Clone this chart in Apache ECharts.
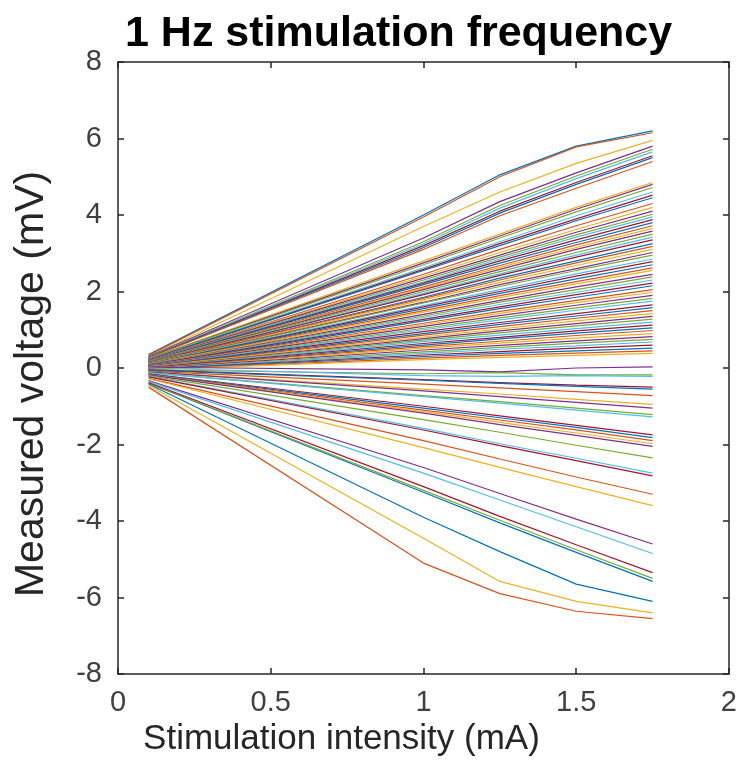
<!DOCTYPE html>
<html>
<head>
<meta charset="utf-8">
<script src="https://cdn.jsdelivr.net/npm/echarts@6/dist/echarts.min.js"></script>
<style>
html,body{margin:0;padding:0;background:#fff;}
#chart{width:740px;height:782px;}
</style>
</head>
<body>
<div id="chart"></div>
<script>
// Stimulation intensities (mA) at which voltages were measured
const intensities = [0.1, 1.0, 1.25, 1.5, 1.75];

// Measured voltage (mV) per recording, one row per line
const topLines = [
  [0.35, 4.00, 5.05, 5.80, 6.20],
  [0.33, 3.95, 5.00, 5.78, 6.15],
  [0.30, 3.70, 4.60, 5.35, 5.95],
  [0.30, 3.40, 4.35, 5.10, 5.80],
  [0.28, 3.30, 4.25, 5.02, 5.72],
  [0.28, 3.25, 4.18, 4.95, 5.65],
  [0.27, 3.20, 4.10, 4.85, 5.55],
  [0.27, 3.15, 4.05, 4.80, 5.50],
  [0.26, 3.10, 3.98, 4.70, 5.40]
];
const upperLines = [
  [0.25, 2.80, 3.50, 4.20, 4.85],
  [0.24, 2.75, 3.45, 4.15, 4.80],
  [0.24, 2.70, 3.40, 4.08, 4.72],
  [0.23, 2.62, 3.30, 3.98, 4.60],
  [0.22, 2.58, 3.25, 3.90, 4.52],
  [0.22, 2.55, 3.20, 3.85, 4.45],
  [0.21, 2.45, 3.10, 3.72, 4.30],
  [0.20, 2.40, 3.02, 3.62, 4.20],
  [0.20, 2.35, 2.95, 3.55, 4.10],
  [0.19, 2.30, 2.90, 3.48, 4.02],
  [0.19, 2.25, 2.85, 3.42, 3.95],
  [0.18, 2.22, 2.80, 3.35, 3.88],
  [0.18, 2.18, 2.74, 3.28, 3.80],
  [0.17, 2.12, 2.68, 3.22, 3.72],
  [0.17, 2.08, 2.63, 3.15, 3.65],
  [0.16, 2.05, 2.58, 3.10, 3.58],
  [0.16, 2.00, 2.52, 3.02, 3.50],
  [0.15, 1.95, 2.46, 2.95, 3.42],
  [0.15, 1.92, 2.42, 2.90, 3.35],
  [0.14, 1.85, 2.35, 2.80, 3.25],
  [0.14, 1.82, 2.30, 2.75, 3.18],
  [0.13, 1.78, 2.24, 2.68, 3.10],
  [0.13, 1.72, 2.18, 2.60, 3.02],
  [0.12, 1.70, 2.13, 2.55, 2.95]
];
const middleLines = [
  [0.12, 1.63, 2.05, 2.46, 2.85],
  [0.11, 1.60, 2.00, 2.40, 2.78],
  [0.11, 1.55, 1.95, 2.33, 2.70],
  [0.10, 1.50, 1.89, 2.26, 2.62],
  [0.10, 1.46, 1.84, 2.20, 2.55],
  [0.09, 1.40, 1.77, 2.12, 2.45],
  [0.09, 1.36, 1.72, 2.05, 2.38],
  [0.08, 1.32, 1.66, 1.98, 2.30],
  [0.08, 1.27, 1.60, 1.92, 2.22],
  [0.07, 1.23, 1.55, 1.85, 2.15],
  [0.07, 1.17, 1.48, 1.77, 2.05],
  [0.06, 1.13, 1.43, 1.71, 1.98],
  [0.06, 1.09, 1.37, 1.64, 1.90],
  [0.05, 1.04, 1.31, 1.57, 1.82],
  [0.05, 1.00, 1.26, 1.51, 1.75],
  [0.04, 0.95, 1.19, 1.42, 1.65],
  [0.04, 0.90, 1.14, 1.36, 1.58],
  [0.03, 0.86, 1.08, 1.30, 1.50],
  [0.03, 0.81, 1.02, 1.23, 1.42],
  [0.02, 0.77, 0.97, 1.16, 1.35],
  [0.02, 0.73, 0.92, 1.10, 1.28],
  [0.01, 0.69, 0.86, 1.03, 1.20],
  [0.01, 0.64, 0.80, 0.97, 1.12],
  [0.00, 0.60, 0.76, 0.91, 1.05],
  [0.00, 0.56, 0.70, 0.85, 0.98],
  [-0.01, 0.52, 0.65, 0.78, 0.90],
  [-0.01, 0.47, 0.59, 0.71, 0.82],
  [-0.02, 0.42, 0.54, 0.65, 0.75],
  [-0.02, 0.38, 0.49, 0.58, 0.68],
  [-0.03, 0.34, 0.43, 0.52, 0.60],
  [-0.03, 0.30, 0.38, 0.45, 0.52],
  [-0.04, 0.26, 0.33, 0.39, 0.45],
  [-0.04, 0.22, 0.28, 0.33, 0.38]
];
const lowerLines = [
  [0.02, -0.05, -0.10, 0.00, 0.03],
  [-0.05, -0.15, -0.12, -0.18, -0.18],
  [0.00, -0.20, -0.22, -0.20, -0.22],
  [-0.05, -0.30, -0.38, -0.45, -0.50],
  [-0.06, -0.32, -0.40, -0.48, -0.55],
  [-0.08, -0.42, -0.52, -0.62, -0.72],
  [-0.10, -0.55, -0.68, -0.82, -0.95],
  [-0.10, -0.60, -0.75, -0.90, -1.05],
  [-0.12, -0.72, -0.88, -1.05, -1.22],
  [-0.13, -0.75, -0.92, -1.10, -1.28],
  [-0.15, -1.00, -1.25, -1.50, -1.75],
  [-0.16, -1.05, -1.30, -1.55, -1.82],
  [-0.17, -1.10, -1.36, -1.62, -1.90],
  [-0.18, -1.14, -1.42, -1.70, -1.98],
  [-0.18, -1.18, -1.48, -1.76, -2.05],
  [-0.20, -1.35, -1.68, -2.02, -2.35],
  [-0.22, -1.58, -1.98, -2.36, -2.75],
  [-0.23, -1.62, -2.03, -2.42, -2.82]
];
const bottomLines = [
  [-0.40, -3.25, -4.05, -4.82, -5.58],
  [-0.27, -1.90, -2.38, -2.85, -3.30],
  [-0.28, -2.08, -2.60, -3.10, -3.60],
  [-0.33, -2.60, -3.28, -3.95, -4.60],
  [-0.40, -3.20, -3.98, -4.75, -5.50],
  [-0.35, -2.75, -3.45, -4.15, -4.85],
  [-0.38, -3.10, -3.88, -4.62, -5.35],
  [-0.42, -3.90, -4.80, -5.65, -6.10],
  [-0.50, -5.10, -5.90, -6.36, -6.55],
  [-0.45, -4.45, -5.58, -6.10, -6.40]
];

const xTicks = [0, 0.5, 1, 1.5, 2];
const yTicks = [-8, -6, -4, -2, 0, 2, 4, 6, 8];

const allLines = [].concat(topLines, upperLines, middleLines, lowerLines, bottomLines);
const palette = ['#0072BD', '#D95319', '#EDB120', '#7E2F8E', '#77AC30', '#4DBEEE', '#A2142F'];

const axisColor = '#262626';
const font = '"Liberation Sans", Arial, Helvetica, sans-serif';

const series = allLines.map((vals, k) => ({
  type: 'line',
  xAxisIndex: 0,
  yAxisIndex: 0,
  data: intensities.map((x, i) => [x, vals[i]]),
  symbol: 'none',
  smooth: false,
  silent: true,
  animation: false,
  lineStyle: { width: 1.2, color: palette[k % palette.length] }
}));

const chart = echarts.init(document.getElementById('chart'), null, { renderer: 'canvas' });
chart.setOption({
  animation: false,
  backgroundColor: '#ffffff',
  title: {
    text: '1 Hz stimulation frequency',
    left: 120, top: 8,
    textStyle: { fontFamily: font, fontSize: 43, fontWeight: 'bold', color: '#000' }
  },
  grid: { left: 118, right: 7, top: 62, bottom: 108, containLabel: false },
  xAxis: [
    {
      type: 'value', min: 0, max: 2, interval: 0.5, position: 'bottom',
      name: 'Stimulation intensity (mA)', nameLocation: 'middle', nameGap: 48,
      nameTextStyle: { fontFamily: font, fontSize: 35, color: axisColor, padding: [0, 164, 0, 0] },
      axisLine: { show: true, onZero: false, lineStyle: { color: axisColor, width: 1.5 } },
      axisTick: { show: true, inside: true, length: 6, lineStyle: { color: axisColor, width: 1.5 } },
      axisLabel: { fontFamily: font, fontSize: 29, color: '#404040', margin: 14,
        formatter: v => xTicks.indexOf(v) >= 0 ? String(v) : '' },
      splitLine: { show: false }
    },
    {
      type: 'value', min: 0, max: 2, interval: 0.5, position: 'top',
      axisLine: { show: true, onZero: false, lineStyle: { color: axisColor, width: 1.5 } },
      axisTick: { show: true, inside: true, length: 6, lineStyle: { color: axisColor, width: 1.5 } },
      axisLabel: { show: false },
      splitLine: { show: false }
    }
  ],
  yAxis: [
    {
      type: 'value', min: -8, max: 8, interval: 2, position: 'left',
      name: 'Measured voltage (mV)', nameLocation: 'middle', nameGap: 66,
      nameTextStyle: { fontFamily: font, fontSize: 41, color: axisColor, padding: [0, 32, 0, 0] },
      axisLine: { show: true, onZero: false, lineStyle: { color: axisColor, width: 1.5 } },
      axisTick: { show: true, inside: true, length: 6, lineStyle: { color: axisColor, width: 1.5 } },
      axisLabel: { fontFamily: font, fontSize: 29, color: '#404040', margin: 16,
        formatter: v => yTicks.indexOf(v) >= 0 ? String(v) : '' },
      splitLine: { show: false }
    },
    {
      type: 'value', min: -8, max: 8, interval: 2, position: 'right',
      axisLine: { show: true, onZero: false, lineStyle: { color: axisColor, width: 1.5 } },
      axisTick: { show: true, inside: true, length: 6, lineStyle: { color: axisColor, width: 1.5 } },
      axisLabel: { show: false },
      splitLine: { show: false }
    }
  ],
  series: series
});
</script>
</body>
</html>
